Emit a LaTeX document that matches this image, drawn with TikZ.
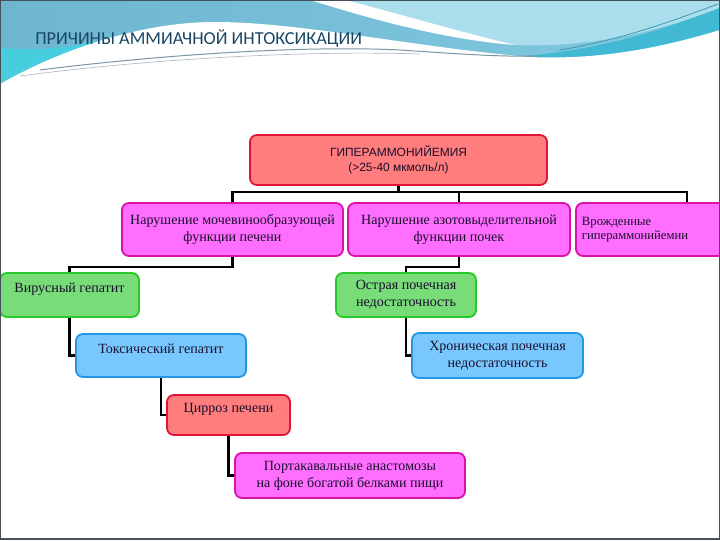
\documentclass[tikz,border=0pt]{standalone}
\usepackage{fontspec}
\setmainfont{Liberation Serif}
\newfontfamily\sansfont{Liberation Sans}
\newfontfamily\titlefont{Carlito}
\usetikzlibrary{positioning, backgrounds}

\definecolor{boxred}{RGB}{255,125,125}
\definecolor{edgered}{RGB}{225,20,55}
\definecolor{boxpink}{RGB}{255,110,255}
\definecolor{edgepink}{RGB}{215,20,165}
\definecolor{boxgreen}{RGB}{120,220,120}
\definecolor{edgegreen}{RGB}{40,200,40}
\definecolor{boxblue}{RGB}{120,200,255}
\definecolor{edgeblue}{RGB}{35,150,230}
\definecolor{inktext}{RGB}{25,15,45}
\definecolor{titleblue}{RGB}{25,70,100}
\definecolor{hdrleft}{RGB}{110,182,208}
\definecolor{hdrright}{RGB}{130,200,225}
\definecolor{hdrlight}{RGB}{170,222,236}
\definecolor{hdrcyan}{RGB}{70,205,222}
\definecolor{hdrteal}{RGB}{65,185,210}
\definecolor{hdrline}{RGB}{120,150,160}
\definecolor{framegray}{RGB}{70,80,90}

\begin{document}
\begin{tikzpicture}[
    x=0.025cm, y=-0.025cm,
    cbox/.style={rectangle, draw, line width=1.3pt, rounded corners=5pt, align=center, text=inktext, inner sep=2pt, font=\fontsize{10}{12}\selectfont},
    redbox/.style={cbox, fill=boxred, draw=edgered},
    pinkbox/.style={cbox, fill=boxpink, draw=edgepink},
    greenbox/.style={cbox, fill=boxgreen, draw=edgegreen},
    bluebox/.style={cbox, fill=boxblue, draw=edgeblue},
    upper/.style={text depth=10pt},
    link/.style={line width=2pt, draw=black}
]
\useasboundingbox (0,0) rectangle (720,540);

% ============ HEADER ============
\fill[white] (0,0) rectangle (720,540);
\fill[left color=hdrleft, right color=hdrright] (0,0) rectangle (720,110);
\fill[hdrlight] (330,0) -- (720,0) -- (720,8) .. controls (650,35) and (580,48) .. (515,45) .. controls (450,35) and (390,15) .. (330,0) -- cycle;
\fill[white] (310,0) -- (345,0) .. controls (400,14) and (460,32) .. (515,45) .. controls (450,40) and (380,22) .. (310,0) -- cycle;
\fill[hdrteal] (500,58) .. controls (600,52) and (660,30) .. (720,8) -- (720,32) .. controls (660,50) and (600,62) .. (530,62) -- cycle;
\fill[hdrcyan] (0,48) .. controls (40,52) and (80,46) .. (120,36) -- (120,60) -- (0,95) -- cycle;
\fill[white] (0,84) .. controls (60,50) and (140,22) .. (215,22) .. controls (300,22) and (420,48) .. (530,57) .. controls (600,60) and (660,48) .. (720,30) -- (720,120) -- (0,120) -- cycle;
\draw[hdrline, line width=0.7pt] (40,70) .. controls (150,56) and (300,45) .. (400,50) .. controls (460,54) and (500,57) .. (540,56);
\draw[hdrline!60, line width=0.5pt] (20,76) .. controls (140,60) and (300,50) .. (420,54);
\draw[hdrteal!80!black, line width=0.5pt] (560,50) .. controls (620,40) and (670,22) .. (718,4);

\node[font=\titlefont\fontsize{13}{15}\selectfont, text=titleblue, anchor=west, inner sep=0pt] (title) at (35,39) {ПРИЧИНЫ АММИАЧНОЙ ИНТОКСИКАЦИИ};

% ============ BOXES ============
\node[redbox, minimum width=7.425cm, minimum height=1.25cm, font=\sansfont\fontsize{8.5}{11}\selectfont] (hyper) at (398.5,160) {ГИПЕРАММОНИЙЕМИЯ\\(>25-40 мкмоль/л)};

\node[pinkbox, minimum width=5.525cm, minimum height=1.325cm] (liverfn) at (232.5,229.5) {Нарушение мочевинообразующей\\функции печени};
\node[pinkbox, minimum width=5.55cm, minimum height=1.325cm] (kidneyfn) at (459,229.5) {Нарушение азотовыделительной\\функции почек};
\node[pinkbox, minimum width=5.55cm, minimum height=1.325cm, align=left, text width=5.25cm, text depth=12pt, font=\fontsize{9}{10}\selectfont] (congen) at (687,229.5) {Врожденные\\гипераммонийемии};

\node[greenbox, upper, minimum width=3.475cm, minimum height=1.1cm] (viral) at (69.5,295) {Вирусный гепатит};
\node[greenbox, minimum width=3.5cm, minimum height=1.1cm] (acute) at (406,295) {Острая почечная\\недостаточность};

\node[bluebox, upper, minimum width=4.25cm, minimum height=1.075cm] (toxic) at (161,355.5) {Токсический гепатит};
\node[bluebox, minimum width=4.275cm, minimum height=1.125cm] (chronic) at (497.5,355.5) {Хроническая почечная\\недостаточность};

\node[redbox, upper, minimum width=3.075cm, minimum height=1cm] (cirrhosis) at (228.5,415) {Цирроз печени};
\node[pinkbox, minimum width=5.75cm, minimum height=1.125cm] (shunt) at (350,475.5) {Портакавальные анастомозы\\на фоне богатой белками пищи};

% ============ LINKS ============
\draw[link] (liverfn.north) -- ++(0,-10) coordinate (bus) -| (congen.north);
\draw[link] (hyper.south) -- (hyper.south |- bus);
\draw[link] (kidneyfn.north) -- (kidneyfn.north |- bus);

\draw[link] (liverfn.south) -- ++(0,10) -| (viral.north);
\draw[link] (viral.south) |- (toxic.west);
\draw[link] (toxic.south) |- (cirrhosis.west);
\draw[link] (cirrhosis.south) |- (shunt.west);

\draw[link] (kidneyfn.south) -- ++(0,10) -| (acute.north);
\draw[link] (acute.south) |- (chronic.west);

% frame
\draw[framegray, line width=1pt] (0.5,0.5) rectangle (719.5,539);
\end{tikzpicture}
\end{document}
